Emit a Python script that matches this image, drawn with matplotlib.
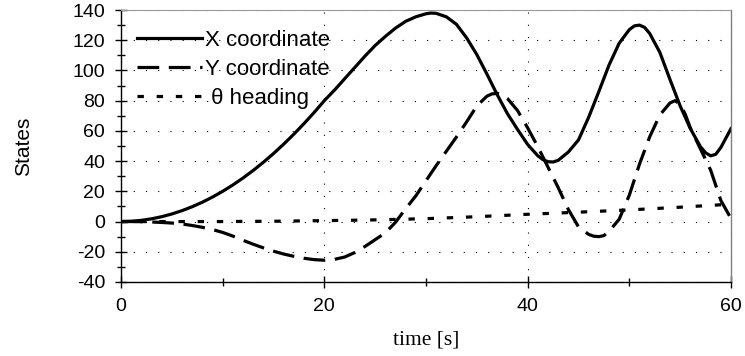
import numpy as np
import matplotlib
matplotlib.use("Agg")
import matplotlib.pyplot as plt
from matplotlib.ticker import MultipleLocator

# X coordinate (extra half-second samples near the turns)
x_time = [0, 1, 2, 3, 4, 5, 6, 7, 8, 9,
          10, 11, 12, 13, 14, 15, 16, 17, 18, 19,
          20, 21, 22, 23, 24, 25, 26, 27, 28, 29,
          30, 30.5, 31, 32, 33, 34, 35, 36, 37, 38, 39,
          40, 41, 41.5, 42, 42.5, 43, 44, 45, 46, 47, 48, 49,
          50, 50.5, 51, 51.5, 52, 53, 54, 55, 56, 57, 57.5, 58, 58.5, 59,
          60]
x_coord = [0, 0.2, 0.8, 1.8, 3.2, 5, 7.2, 9.8, 12.8, 16.2,
           20, 24.2, 28.8, 33.8, 39.2, 45, 51.2, 57.8, 64.8, 72.2,
           80, 87, 94.5, 102, 109.5, 116.5, 122.5, 128, 132.5, 135.5,
           137.5, 138, 137.8, 135.5, 130.5, 121.5, 110.5, 97.5, 84, 71.5, 61,
           51, 43.5, 41, 39.6, 39.4, 40.5, 46, 54, 69, 86, 103.5, 118,
           127, 129.5, 130, 128.5, 124.5, 112, 94, 76.5, 61.5, 49.5, 45.5, 43.5, 44.5, 49,
           61.5]

# Y coordinate
y_time = [0, 1, 2, 3, 4, 5, 6, 7, 8, 9,
          10, 11, 12, 13, 14, 15, 16, 17, 18, 19,
          20, 21, 22, 23, 24, 25, 26, 27, 28, 29,
          30, 31, 32, 33, 34, 35, 36, 36.5, 37, 37.5, 38, 39,
          40, 41, 42, 43, 44, 45, 46, 46.5, 47, 47.5, 48, 49,
          50, 51, 52, 53, 54, 54.5, 55, 55.5, 56, 57, 58, 59,
          60]
y_coord = [0, 0, -0.1, -0.3, -0.6, -1, -1.6, -2.6, -3.8, -5.3,
           -7.2, -9.6, -12.4, -15, -17.4, -19.6, -21.5, -23, -24.3, -25.2,
           -25.6, -25, -23.5, -20.5, -16.5, -12, -7.5, -0.5, 8.5, 17,
           27, 37, 46.5, 56, 66, 76.5, 83, 84.5, 84.8, 84, 81.5, 73.5,
           62, 49.5, 36, 22.5, 8, -3.5, -8.5, -9.7, -10, -9.3, -6.5, 1.5,
           17.5, 38, 56, 70.5, 78.5, 80, 77.5, 71, 62, 48, 34, 14,
           2]

# heading angle, coarser samples (nearly straight)
theta_t = [0, 5, 10, 15, 20, 25, 30, 35, 40, 45, 50, 55, 60]
theta = [0, 0, 0, 0.2, 0.6, 1.1, 1.9, 3.2, 4.8, 6.2, 7.7, 9.5, 11.5]

labels = ["X coordinate", "Y coordinate", " \u03b8 heading"]

plt.rcParams['font.family'] = ['Liberation Sans', 'DejaVu Sans']
plt.rcParams['axes.unicode_minus'] = False

fig = plt.figure(figsize=(7.45, 3.56), dpi=100)
ax = fig.add_axes([0.1624, 0.2079, 0.8188, 0.764])

lw = 2.3
ax.plot(x_time, x_coord, color="black", linewidth=lw, label=labels[0])
ax.plot(y_time, y_coord, color="black", linewidth=lw, dashes=(6.8, 3.0), label=labels[1])
ax.plot(theta_t, theta, color="black", linewidth=lw, dashes=(2.0, 4.0), label=labels[2])

ax.set_xlim(0, 60)
ax.set_ylim(-40, 140)
ax.xaxis.set_major_locator(MultipleLocator(20))
ax.xaxis.set_minor_locator(MultipleLocator(10))
ax.yaxis.set_major_locator(MultipleLocator(20))
ax.yaxis.set_minor_locator(MultipleLocator(10))

ax.tick_params(which="major", direction="inout", length=9, width=1, labelsize=14, pad=7)
ax.tick_params(which="minor", direction="inout", length=6, width=1)
ax.tick_params(axis="y", right=False)

# dotted grid on major ticks only
ax.grid(True, which="major", color="black", linewidth=0.8, linestyle=(0, (1, 10)))

ax.spines["top"].set_color("#9a9a9a")
ax.spines["top"].set_linewidth(0.8)
ax.spines["right"].set_color("#808080")
ax.spines["right"].set_linewidth(1)
ax.spines["left"].set_linewidth(1)
ax.spines["bottom"].set_linewidth(1)

ax.set_ylabel("States", fontsize=15, labelpad=28)
ax.set_xlabel("time [s]", fontsize=15.5, family=["Liberation Serif", "DejaVu Serif"], labelpad=11)

ax.legend(loc="upper left", bbox_to_anchor=(0.026, 0.928), frameon=False,
          fontsize=16, handlelength=2.95, handletextpad=0.1, labelspacing=0.37,
          borderpad=0, borderaxespad=0)

fig.savefig("out.png", dpi=100)
